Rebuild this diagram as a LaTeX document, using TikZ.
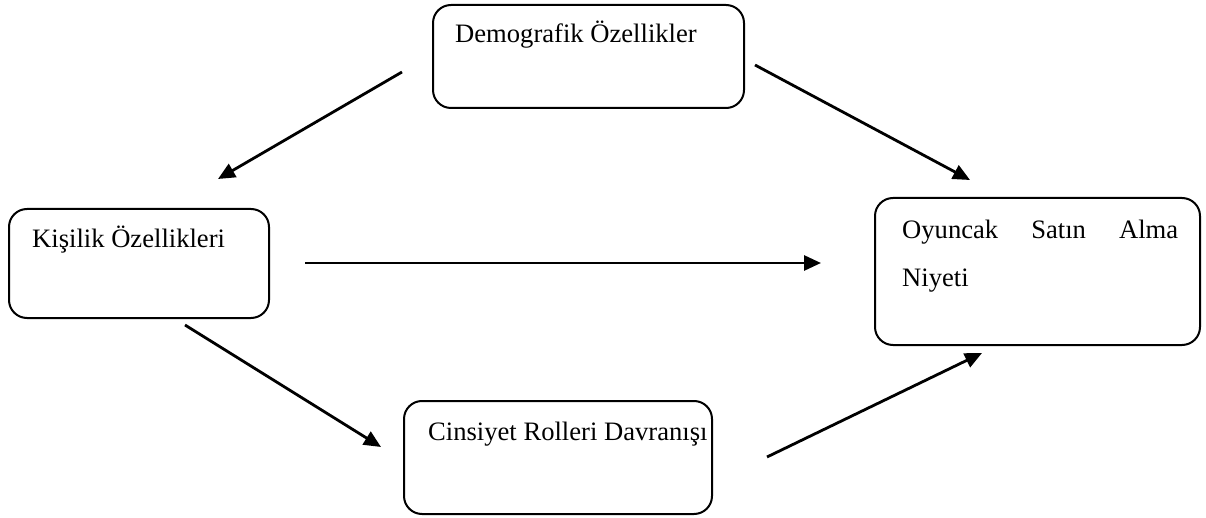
\documentclass[tikz,border=0pt]{standalone}
\usepackage{fontspec}
\setmainfont{Liberation Serif}
\usetikzlibrary{arrows.meta}
\begin{document}
\begin{tikzpicture}[x=1pt,y=-1pt,
  box/.style={draw=black, line width=2pt, rounded corners=18pt, rectangle, anchor=north west, inner sep=0pt},
  lbl/.style={anchor=base west, inner sep=0pt, font=\fontsize{26.6}{48}\selectfont},
  arr/.style={draw=black, line width=2.8pt, -{Triangle[length=17pt,width=15pt]}}]
\useasboundingbox (0,0) rectangle (1206,518);
% boxes
\node[box, minimum width=311pt, minimum height=103pt] (dem) at (432,4) {};
\node[box, minimum width=260pt, minimum height=109pt] (kis) at (8,208) {};
\node[box, minimum width=325pt, minimum height=147pt] (oyu) at (874,197) {};
\node[box, minimum width=308pt, minimum height=113pt] (cin) at (403,400) {};
% labels
\node[lbl] (demt) at (455,43) {Demografik Özellikler};
\node[lbl] (kist) at (32,248) {Kişilik Özellikleri};
\node[lbl, text width=276pt, align=left] (oyut) at (902,239) {Oyuncak\hfill Satın\hfill Alma\\Niyeti};
\node[lbl] (cint) at (428,440) {Cinsiyet Rolleri Davranışı};
% connector ends
\coordinate (a1s) at (402,72);  \coordinate (a1e) at (218,179);
\coordinate (a2s) at (755,65);  \coordinate (a2e) at (970,180);
\coordinate (a3s) at (305,263); \coordinate (a3e) at (821,263);
\coordinate (a4s) at (185,325); \coordinate (a4e) at (381,447);
\coordinate (a5s) at (767,457); \coordinate (a5e) at (982,353);
\draw[arr] (a1s) -- (a1e);
\draw[arr] (a2s) -- (a2e);
\draw[arr] (a3s) -- (a3e);
\draw[arr] (a4s) -- (a4e);
\draw[arr] (a5s) -- (a5e);
\end{tikzpicture}
\end{document}
